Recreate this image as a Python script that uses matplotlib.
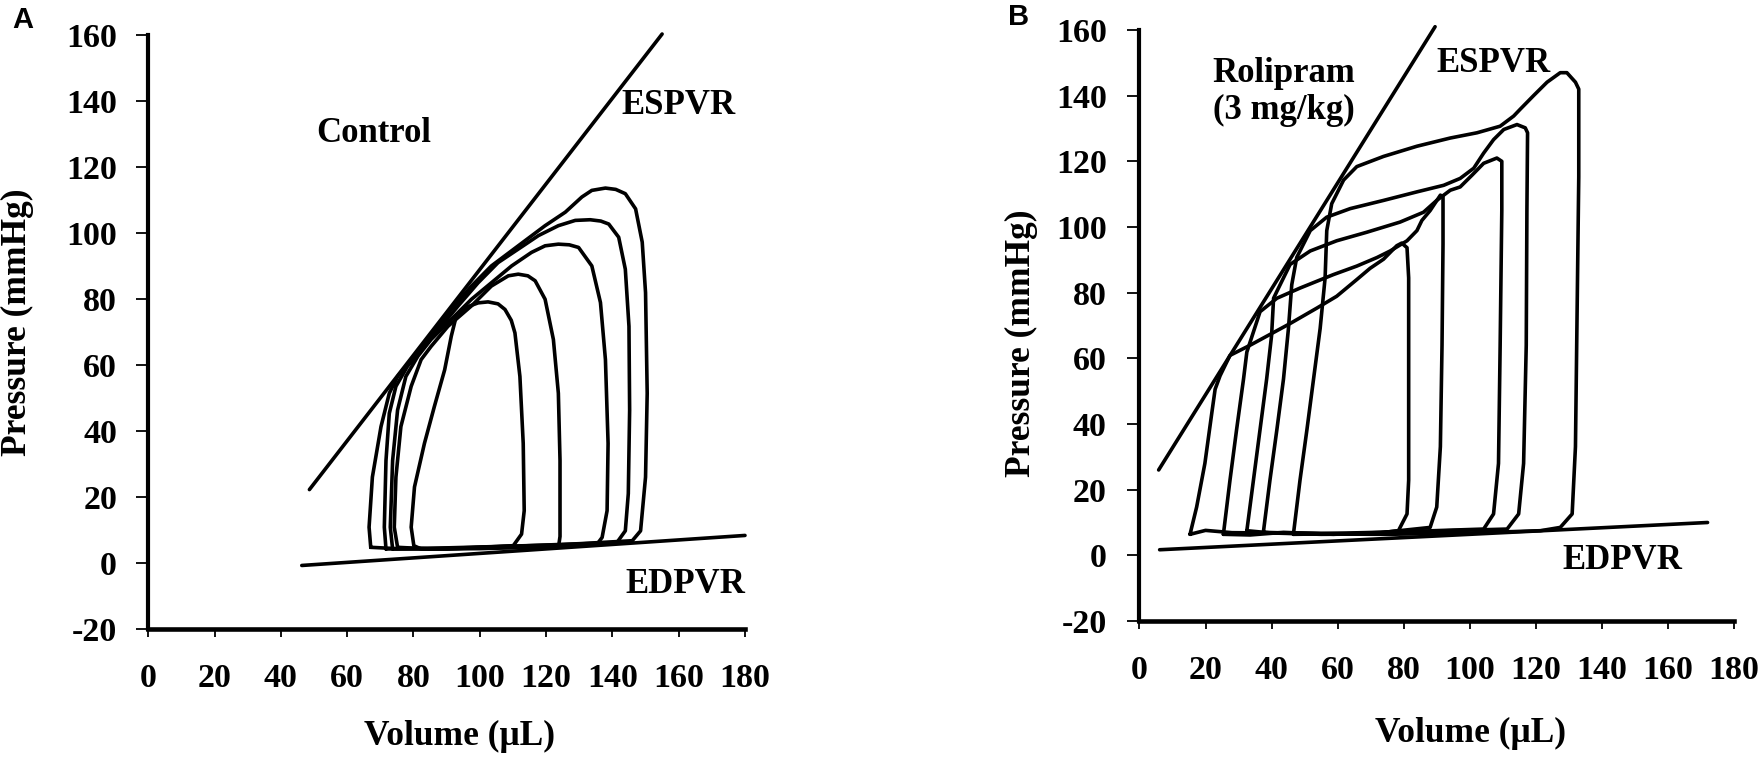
import numpy as np
import matplotlib.pyplot as plt

plt.rcParams['font.family'] = ['Liberation Serif', 'DejaVu Serif']
plt.rcParams['font.weight'] = 'bold'
plt.rcParams['axes.unicode_minus'] = False

# ---- panel A: control, volume (uL) / pressure (mmHg) of each PV loop ----
ctrl1_v = [92.9, 96, 99.5, 102.5, 105.5, 107.6, 109.5, 110.6, 112.1, 113.1, 113.4, 112.6, 110.1, 100.5, 90.4, 82.3, 80.1, 79.3, 80.3, 83.3, 86.3, 89.4, 91.4, 92.9]
ctrl1_p = [74.8, 77.5, 78.8, 79.1, 78.5, 76.8, 73.5, 69.7, 56.5, 36.2, 15.8, 8.7, 5.2, 4.7, 4.2, 4.2, 5.2, 10.8, 23, 36.2, 47.4, 58.5, 68.7, 74.8]
ctrl2_v = [75.2, 74.2, 74.7, 76.2, 79.3, 82.3, 85.3, 90.4, 97.5, 103.5, 108.6, 111.6, 114.5, 116.7, 119.7, 122.2, 123.7, 124.2, 124.2, 123.8, 115.6, 100, 85, 75.2]
ctrl2_p = [4.7, 10.8, 26, 41.3, 53.5, 61.6, 65.6, 71.7, 77.9, 83.9, 87, 87.5, 87, 85.5, 79.9, 67.7, 51.4, 31, 8, 5.2, 4.7, 4.3, 4.2, 4.7]
ctrl3_v = [73.7, 73.0, 73.7, 75.2, 77.7, 81.3, 85.3, 91.4, 97.5, 103.5, 109.6, 115.6, 119.7, 123.7, 127, 129.8, 133.8, 136.4, 137.9, 138.7, 138.4, 136.9, 135.4, 120, 100, 85, 73.7]
ctrl3_p = [4.2, 10.8, 31, 46.3, 56.5, 62.6, 67.7, 73.8, 79.9, 84.9, 90, 94.1, 96.1, 96.6, 96.4, 95.6, 90, 78.9, 61.6, 36.2, 15.8, 7.7, 5.7, 5.0, 4.5, 4.2, 4.2]
ctrl4_v = [71.7, 71.2, 71.7, 72.7, 74.7, 78.2, 83.3, 88.4, 93.4, 99.5, 105.5, 111.6, 117.7, 123.7, 128.8, 133.3, 136.5, 138.9, 141.9, 143.9, 145.0, 145.2, 144.8, 143.9, 141.4, 125, 100, 85, 71.7]
ctrl4_p = [4.2, 10.8, 31, 45.3, 53.5, 59.6, 65.6, 71.7, 77.8, 84.9, 91, 95.1, 99.2, 102.2, 103.8, 104, 103.6, 102.7, 98.7, 89, 71.7, 46.3, 21, 9.7, 6.2, 5.5, 4.8, 4.4, 4.2]
ctrl5_v = [67.1, 66.6, 67.6, 70.2, 72.7, 75.2, 80.3, 85.3, 91.4, 97.5, 103.5, 111.6, 119.7, 125.8, 130.8, 133.8, 137.9, 141, 143.9, 147.0, 149.0, 150.0, 150.5, 150.0, 148.5, 146.0, 130, 110, 90, 75, 67.1]
ctrl5_p = [4.7, 10.8, 26, 41.3, 51.4, 56.5, 62.6, 68.7, 76.8, 83.9, 90, 96.1, 102.2, 106.3, 110.9, 112.9, 113.6, 113.2, 111.9, 107.3, 97.2, 81.9, 51.4, 26, 9.7, 6.7, 5.8, 5.0, 4.4, 4.3, 4.7]
ctrl_espvr_v = [48.6, 155.0]
ctrl_espvr_p = [22.2, 160.3]
ctrl_edpvr_v = [46.3, 180.0]
ctrl_edpvr_p = [-0.8, 8.3]

# ---- panel B: rolipram 3 mg/kg ----
roli1_v = [15.3, 17.3, 19.8, 21.9, 22.9, 24.4, 27.4, 33.5, 45.6, 53.7, 59.7, 65.8, 69.8, 73.9, 77.9, 79.4, 81.0, 81.5, 81.5, 81.5, 81.0, 78.4, 70, 55, 40, 28, 20, 15.3]
roli1_p = [6.4, 14.7, 28, 43.4, 50.6, 54.7, 60.9, 64.0, 70.6, 75.3, 78.9, 84.0, 87.4, 90.2, 94.3, 95.1, 93.7, 84.5, 53.7, 22.9, 12.6, 7.5, 6.5, 6.4, 6.8, 6.9, 7.6, 6.4]
roli2_v = [25.4, 27.4, 29.4, 31.5, 32.5, 36.5, 41.6, 48.6, 58.7, 65.8, 71.9, 75.9, 81.0, 84.0, 85.5, 88.0, 91.1, 91.9, 91.9, 91.6, 91.1, 90.0, 88.0, 73.9, 58.7, 43.6, 33.5, 25.4]
roli2_p = [6.4, 22.9, 38.3, 53.7, 61.9, 74.2, 78.3, 81.4, 85.5, 88.1, 90.7, 92.7, 95.8, 98.9, 102, 105, 109.7, 109.2, 94.8, 64, 33.1, 14.7, 8.5, 7.0, 6.4, 7.0, 6.2, 6.4]
roli3_v = [32.5, 34.5, 36.5, 38.5, 40.0, 40.6, 41.6, 45.6, 51.7, 59.7, 68.8, 78.9, 86.0, 90.0, 94.1, 97.1, 100.7, 104.2, 108.2, 109.7, 109.7, 109.2, 108.7, 107.2, 104.2, 80, 55, 40, 32.5]
roli3_p = [7.5, 22.9, 38.3, 53.7, 67, 78.3, 80.4, 88.6, 92.7, 95.8, 98.4, 101.5, 104.5, 108.1, 111.2, 112.2, 115.8, 119.4, 121, 120, 105, 64, 28, 12.6, 8.0, 7.2, 6.6, 6.8, 7.5]
roli4_v = [37.5, 39.5, 41.6, 43.6, 45.1, 46.1, 47.6, 51.7, 56.7, 63.8, 73.9, 84.0, 92.1, 97.1, 101.2, 104.2, 107.2, 110.3, 114.3, 116.8, 117.5, 117.3, 117.1, 116.3, 114.8, 111.3, 90, 65, 45, 37.5]
roli4_p = [7.0, 22.9, 38.3, 53.7, 69.1, 82.4, 90.7, 98.9, 103, 105.6, 108.1, 110.7, 112.7, 114.8, 117.9, 122.5, 126.6, 129.7, 131.2, 130.2, 128.7, 105, 64, 28, 12.6, 8.0, 7.4, 6.6, 6.8, 7.0]
roli5_v = [46.6, 48.6, 50.7, 52.7, 54.7, 56.2, 56.7, 58.2, 61.8, 65.8, 73.9, 84.0, 94.1, 102.2, 109.2, 113.3, 115.3, 119.3, 123.4, 127.4, 129.4, 132.0, 133.0, 133.0, 132.5, 132.0, 131.0, 127.4, 121.4, 100, 75, 55, 46.6]
roli5_p = [6.4, 22.9, 38.3, 53.7, 69.1, 84.5, 98.9, 107.1, 114.3, 118.4, 121.5, 124.6, 127.1, 128.7, 130.7, 133.8, 135.9, 140.0, 144.1, 147.0, 147.0, 144.1, 142.0, 115.3, 74.2, 33.1, 12.6, 8.5, 7.5, 6.8, 6.4, 6.5, 6.4]
roli_espvr_v = [5.8, 89.5]
roli_espvr_p = [26.0, 161.0]
roli_edpvr_v = [6.1, 172.0]
roli_edpvr_p = [1.7, 10.0]

ticks_x = [0, 20, 40, 60, 80, 100, 120, 140, 160, 180]
ticks_y = [-20, 0, 20, 40, 60, 80, 100, 120, 140, 160]

fig = plt.figure(figsize=(17.6, 7.57), dpi=100)
axA = fig.add_axes([0.08426, 0.16935, 0.33903, 0.78441])
axB = fig.add_axes([0.64744, 0.17966, 0.33778, 0.78071])

lw = 2.6
for v, p in [(ctrl1_v, ctrl1_p), (ctrl2_v, ctrl2_p), (ctrl3_v, ctrl3_p),
             (ctrl4_v, ctrl4_p), (ctrl5_v, ctrl5_p),
             (ctrl_espvr_v, ctrl_espvr_p), (ctrl_edpvr_v, ctrl_edpvr_p)]:
    axA.plot(v, p, color='black', lw=lw, solid_joinstyle='round', solid_capstyle='round', clip_on=False)
for v, p in [(roli1_v, roli1_p), (roli2_v, roli2_p), (roli3_v, roli3_p),
             (roli4_v, roli4_p), (roli5_v, roli5_p),
             (roli_espvr_v, roli_espvr_p), (roli_edpvr_v, roli_edpvr_p)]:
    axB.plot(v, p, color='black', lw=lw, solid_joinstyle='round', solid_capstyle='round', clip_on=False)

for ax, ypad in [(axA, 14), (axB, 15)]:
    ax.set_xlim(0, 180)
    ax.set_ylim(-20, 160)
    ax.set_xticks(ticks_x)
    ax.set_yticks(ticks_y)
    ax.spines['top'].set_visible(False)
    ax.spines['right'].set_visible(False)
    ax.spines['left'].set_linewidth(3.0)
    ax.spines['bottom'].set_linewidth(3.3)
    ax.tick_params(axis='x', direction='out', length=5.5, width=1.3, pad=19, labelsize=24.5)
    ax.tick_params(axis='y', direction='out', length=8.5, width=1.3, pad=ypad, labelsize=24.5)
    for lab in ax.get_xticklabels() + ax.get_yticklabels():
        lab.set_fontweight('bold')

axA.set_xlabel('Volume (\u03bcL)', fontsize=25.5, fontweight='bold')
axA.set_ylabel('Pressure (mmHg)', fontsize=25.5, fontweight='bold')
axA.xaxis.set_label_coords(0.522, -0.182)
axA.yaxis.set_label_coords(-0.219, 0.517)
axB.set_xlabel('Volume (\u03bcL)', fontsize=25.5, fontweight='bold')
axB.set_ylabel('Pressure (mmHg)', fontsize=25.5, fontweight='bold')
axB.xaxis.set_label_coords(0.556, -0.19)
axB.yaxis.set_label_coords(-0.198, 0.47)
for ax in (axA, axB):
    ax.xaxis.label.set_va('center')
    ax.yaxis.label.set_va('center')

axA.text(68, 130, 'Control', ha='center', va='center', fontsize=25, fontweight='bold')
axA.text(160, 138.6, 'ESPVR', ha='center', va='center', fontsize=25, fontweight='bold')
axA.text(162, -6.6, 'EDPVR', ha='center', va='center', fontsize=25, fontweight='bold')
axB.text(43.6, 141, 'Rolipram\n(3 mg/kg)', ha='center', va='center', fontsize=25,
         fontweight='bold', linespacing=1.15)
axB.text(107.2, 149.7, 'ESPVR', ha='center', va='center', fontsize=25, fontweight='bold')
axB.text(146.2, -1.5, 'EDPVR', ha='center', va='center', fontsize=25, fontweight='bold')

fig.text(12 / 1760, 1 - 6 / 757, 'A', ha='left', va='top', fontsize=21,
         fontweight='bold', family=['Liberation Sans', 'DejaVu Sans'])
fig.text(1008 / 1760, 1 - 3 / 757, 'B', ha='left', va='top', fontsize=21,
         fontweight='bold', family=['Liberation Sans', 'DejaVu Sans'])

fig.savefig('out.png', dpi=100)
